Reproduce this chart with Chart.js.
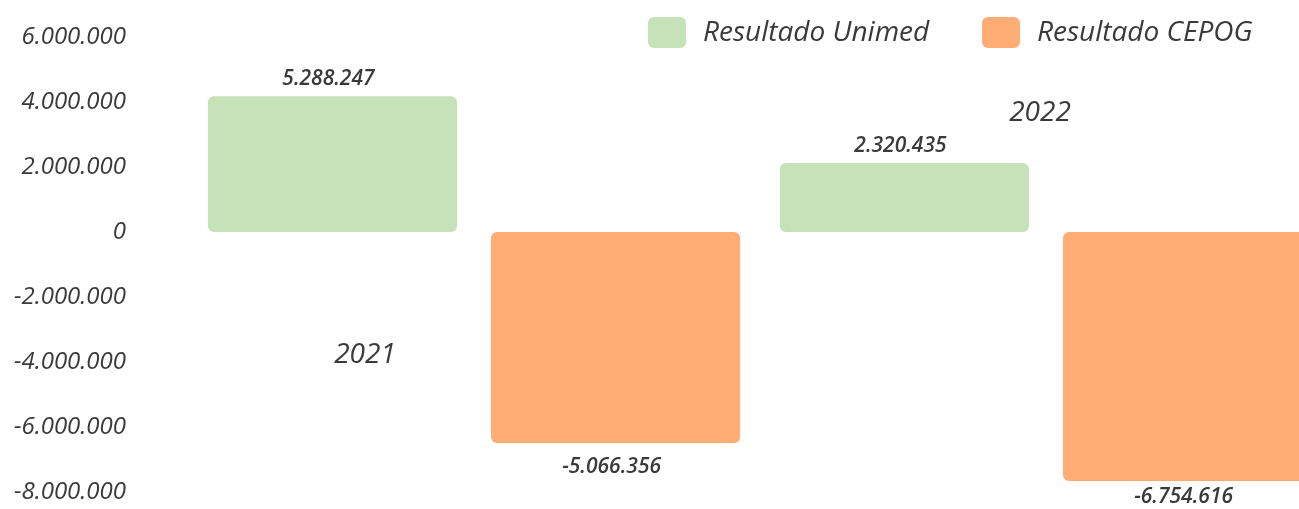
<!DOCTYPE html>
<html>
<head>
<meta charset="utf-8">
<script src="https://cdn.jsdelivr.net/npm/chart.js@4"></script>
<style>
  html, body { margin: 0; padding: 0; background: #fff; overflow: hidden; }
  canvas { display: block; }
</style>
</head>
<body>
<canvas id="resultChart" width="1340" height="509"></canvas>
<script>
// Categories and series
const years = ['2021', '2022'];
const seriesNames = ['Resultado Unimed', 'Resultado CEPOG'];
// bar heights as drawn against the axis
const unimedValues = [4180000, 2120000];
const cepogValues = [-6490000, -7660000];
// values printed on the bars
const unimedLabels = ['5.288.247', '2.320.435'];
const cepogLabels = ['-5.066.356', '-6.754.616'];
// y axis ticks
const yTicks = [6000000, 4000000, 2000000, 0, -2000000, -4000000, -6000000, -8000000];

const GREEN = 'rgb(197, 226, 185)';
const ORANGE = 'rgb(255, 173, 116)';
const TEXT = '#3a3a3a';
const FONT = '"Open Sans", sans-serif';

const fmt = v => v.toLocaleString('de-DE');

// Value labels above / below each bar
const barLabels = {
    id: 'barLabels',
    afterDatasetsDraw(chart) {
        const ctx = chart.ctx;
        const printed = [unimedLabels, cepogLabels];
        ctx.save();
        ctx.font = 'italic 600 21px ' + FONT;
        ctx.fillStyle = TEXT;
        ctx.textAlign = 'center';
        ctx.textBaseline = 'middle';
        chart.data.datasets.forEach((ds, i) => {
            chart.getDatasetMeta(i).data.forEach((bar, j) => {
                const val = ds.data[j];
                // keep the lowest label inside the canvas
                const y = val >= 0 ? bar.y - 17 : Math.min(bar.y + 24, chart.height - 12);
                ctx.fillText(printed[i][j], bar.x - 4, y);
            });
        });
        ctx.restore();
    }
};

// Year labels floating inside the plot, and the legend on top
const extras = {
    id: 'extras',
    afterDraw(chart, args, opts) {
        const ctx = chart.ctx;
        const xs = chart.scales.x;
        const ys = chart.scales.y;
        ctx.save();
        ctx.fillStyle = TEXT;
        ctx.font = 'italic 28px ' + FONT;
        ctx.textAlign = 'center';
        ctx.textBaseline = 'middle';
        years.forEach((yr, i) => {
            const p = opts.yearPos[i];
            ctx.fillText(yr, xs.getPixelForValue(i) + p.dx, ys.getPixelForValue(p.at));
        });

        // legend
        ctx.font = 'italic 500 28px ' + FONT;
        ctx.textAlign = 'left';
        chart.data.datasets.forEach((ds, i) => {
            const lx = opts.legendX[i];
            ctx.fillStyle = ds.backgroundColor;
            ctx.beginPath();
            ctx.roundRect(lx, 17, 38, 31, 6);
            ctx.fill();
            ctx.fillStyle = TEXT;
            ctx.fillText(ds.label, lx + 55, 33);
        });
        ctx.restore();
    }
};

const ctx = document.getElementById('resultChart').getContext('2d');
new Chart(ctx, {
    type: 'bar',
    data: {
        labels: years,
        datasets: [{
            label: seriesNames[0],
            data: unimedValues,
            backgroundColor: GREEN,
            borderRadius: 6,
            borderSkipped: false
        }, {
            label: seriesNames[1],
            data: cepogValues,
            backgroundColor: ORANGE,
            borderRadius: 6,
            borderSkipped: false
        }]
    },
    options: {
        responsive: false,
        animation: false,
        layout: { padding: { top: 37, bottom: 17, right: 8, left: 0 } },
        datasets: {
            bar: { categoryPercentage: 0.99, barPercentage: 0.88 }
        },
        scales: {
            x: {
                display: false
            },
            y: {
                min: -8000000,
                max: 6000000,
                afterBuildTicks: axis => {
                    axis.ticks = yTicks.map(v => ({ value: v }));
                },
                // fixed axis width; the big tick padding must not eat into the plot height
                afterFit: axis => {
                    axis.width = 188;
                    axis.paddingTop = 0;
                    axis.paddingBottom = 0;
                },
                grid: { display: false },
                border: { display: false },
                ticks: {
                    padding: 54,
                    color: TEXT,
                    font: { family: FONT, size: 24, style: 'italic', weight: 500 },
                    callback: v => fmt(v)
                }
            }
        },
        plugins: {
            legend: { display: false },
            tooltip: { enabled: false },
            extras: {
                yearPos: [{ dx: -109, at: -3800000 }, { dx: -6, at: 3660000 }],
                legendX: [648, 982]
            }
        }
    },
    plugins: [barLabels, extras]
});
</script>
</body>
</html>
